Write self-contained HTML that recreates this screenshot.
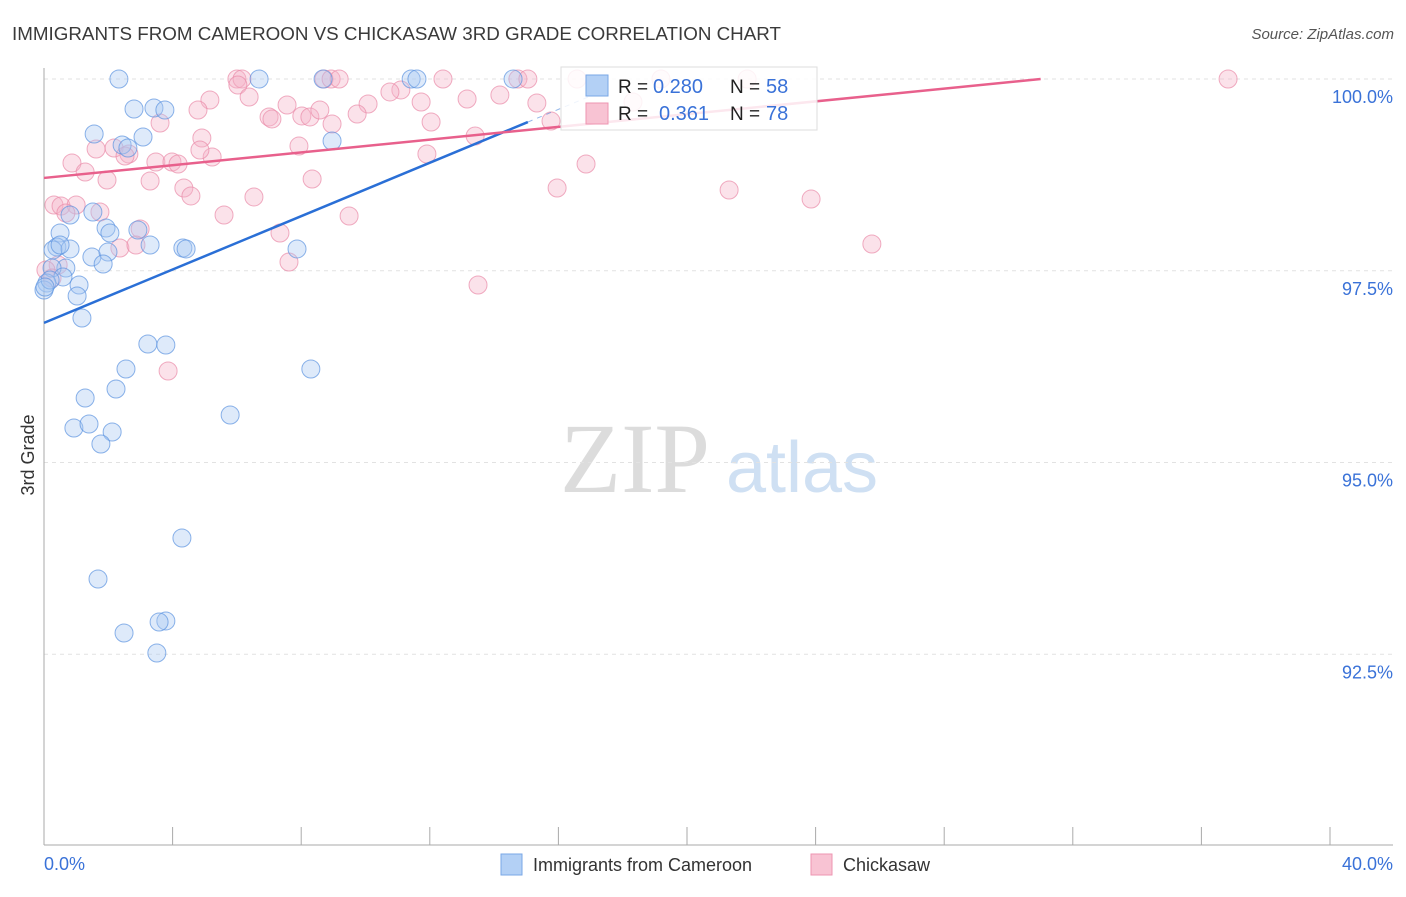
<!DOCTYPE html>
<html><head><meta charset="utf-8"><style>
body{margin:0;background:#fff;font-family:"Liberation Sans",sans-serif;}
</style></head><body>
<svg width="1406" height="892" xmlns="http://www.w3.org/2000/svg" id="chart">
<text x="12" y="40" font-size="18" fill="#3a3a3a" textLength="769" lengthAdjust="spacingAndGlyphs">IMMIGRANTS FROM CAMEROON VS CHICKASAW 3RD GRADE CORRELATION CHART</text>
<text x="1394" y="39" font-size="15" fill="#555" text-anchor="end" font-style="italic">Source: ZipAtlas.com</text>
<text x="635" y="492" font-size="100" fill="#dcdcdc" font-family="Liberation Serif,serif" text-anchor="middle">ZIP</text>
<text x="802" y="492" font-size="72" fill="#cfe0f3" text-anchor="middle">atlas</text>
<g id="grid"></g><g id="axes"></g><g id="pts"></g><g id="lines"></g>
<text x="34" y="455" font-size="18" fill="#333" transform="rotate(-90 34 455)" text-anchor="middle">3rd Grade</text>
<text x="44" y="870" font-size="18" fill="#3a72d8">0.0%</text>
<text x="1393" y="870" font-size="18" fill="#3a72d8" text-anchor="end">40.0%</text>
<g>
<rect x="561" y="67" width="256" height="63" fill="#fff" fill-opacity="0.85" stroke="#ddd"/>
<rect x="586" y="75" width="22" height="21" fill="#b3d0f5" stroke="#7aa7e6"/>
<rect x="586" y="103" width="22" height="21" fill="#f8c3d3" stroke="#ee95b1"/>
<text x="618" y="93" font-size="19" fill="#222">R =</text>
<text x="653" y="93" font-size="20" fill="#3a72d8">0.280</text>
<text x="730" y="93" font-size="19" fill="#222">N =</text>
<text x="766" y="93" font-size="20" fill="#3a72d8">58</text>
<text x="618" y="120" font-size="19" fill="#222">R =</text>
<text x="659" y="120" font-size="20" fill="#3a72d8">0.361</text>
<text x="730" y="120" font-size="19" fill="#222">N =</text>
<text x="766" y="120" font-size="20" fill="#3a72d8">78</text>
</g>
<g><rect x="501" y="854" width="21" height="21" fill="#b3d0f5" stroke="#7aa7e6"/><text x="533" y="871" font-size="18" fill="#333">Immigrants from Cameroon</text></g>
<g><rect x="811" y="854" width="21" height="21" fill="#f8c3d3" stroke="#ee95b1"/><text x="843" y="871" font-size="18" fill="#333">Chickasaw</text></g>
</svg>
<script>
const yTicks=[100,97.5,95,92.5];
const yTickLabels=["100.0%","97.5%","95.0%","92.5%"];
const xTicks=[0,4,8,12,16,20,24,28,32,36,40];
const bluePx=[[119,79],[259,79],[323,79],[411,79],[417,79],[513,79],[134,109],[154,108],[165,110],[94,134],[143,137],[122,145],[128,148],[332,141],[93,212],[70,215],[106,228],[110,233],[60,233],[138,230],[150,245],[183,248],[186,249],[297,249],[57,247],[53,250],[70,249],[92,257],[108,252],[103,264],[66,268],[52,268],[63,277],[47,283],[79,285],[77,296],[82,318],[148,344],[166,345],[126,369],[311,369],[116,389],[85,398],[230,415],[74,428],[89,424],[112,432],[101,444],[182,538],[98,579],[166,621],[159,622],[124,633],[157,653],[44,290],[50,280],[60,245],[45,287]];
const pinkPx=[[237,79],[242,79],[324,79],[331,79],[339,79],[443,79],[518,79],[528,79],[577,79],[661,79],[747,79],[1228,79],[238,85],[249,97],[210,100],[287,105],[401,90],[390,92],[421,102],[467,99],[537,103],[633,102],[368,104],[302,116],[310,117],[269,117],[272,119],[357,114],[431,122],[551,121],[332,124],[160,123],[198,110],[475,136],[202,138],[299,146],[114,148],[96,149],[129,154],[125,156],[212,157],[156,162],[172,162],[178,164],[72,163],[427,154],[586,164],[85,172],[107,180],[150,181],[184,188],[191,196],[312,179],[557,188],[729,190],[811,199],[254,197],[54,205],[61,206],[76,205],[100,212],[66,213],[224,215],[349,216],[140,229],[280,233],[120,248],[136,245],[872,244],[289,262],[478,285],[168,371],[58,265],[46,270],[52,278],[200,150],[320,110],[500,95]];
const blueX=bluePx.map(p=>+((p[0]-44)/32.15).toFixed(2)), blueY=bluePx.map(p=>+(100-(p[1]-79)/76.7).toFixed(3));
const pinkX=pinkPx.map(p=>+((p[0]-44)/32.15).toFixed(2)), pinkY=pinkPx.map(p=>+(100-(p[1]-79)/76.7).toFixed(3));
const blueTrend=[96.82,0.174], pinkTrend=[98.71,0.0416];
const X=v=>44+v/40*1286, Y=v=>79+(100-v)*76.7;
const NS="http://www.w3.org/2000/svg";
function mk(t,a,parent){const e=document.createElementNS(NS,t);for(const k in a)e.setAttribute(k,a[k]);document.getElementById(parent).appendChild(e);return e;}
yTicks.forEach((v,i)=>{
 const l=mk('line',{x1:44,x2:1393,y1:Y(v),y2:Y(v),stroke:'#e2e2e2','stroke-dasharray':'4,4'},'grid');
 
 
 const t=mk('text',{x:1393,y:Y(v)+24,'font-size':18,fill:'#3a72d8','text-anchor':'end'},'grid');t.textContent=yTickLabels[i];
 
 
});
let a=mk('line',{x1:44,x2:44,y1:68,y2:845,stroke:'#aaa'},'axes');


a=mk('line',{x1:44,x2:1393,y1:845,y2:845,stroke:'#aaa'},'axes');


xTicks.forEach(v=>{const t=mk('line',{x1:X(v),x2:X(v),y1:827,y2:845,stroke:'#aaa'},'axes');
 
 });
function pts(xs,ys,fill,stroke,name){xs.forEach((x,i)=>{const c=mk('circle',{cx:X(x),cy:Y(ys[i]),r:9,fill:fill,'fill-opacity':0.38,stroke:stroke,'stroke-opacity':0.7,'stroke-width':1},'pts');
 
 });}
pts(pinkX,pinkY,'#f5b3c8','#e98aa8','chickasaw-point');
pts(blueX,blueY,'#a9c9f2','#5b93e0','cameroon-point');
function trend(tr,x1,x2,x3,col,name){
 const l=mk('line',{x1:X(x1),y1:Y(tr[0]+tr[1]*x1),x2:X(x2),y2:Y(tr[0]+tr[1]*x2),stroke:col,'stroke-width':2.5},'lines');
 
 
 if(x3>x2){
 const d=mk('line',{x1:X(x2),y1:Y(tr[0]+tr[1]*x2),x2:X(x3),y2:Y(tr[0]+tr[1]*x3),stroke:col,'stroke-width':1,'stroke-dasharray':'5,5','stroke-opacity':0.5},'lines');
 
 }
}
trend(blueTrend,0,15.05,17.5,'#2a6fd6','cameroon-trendline');
trend(pinkTrend,0,31,31,'#e8608c','chickasaw-trendline');
</script>
</body></html>
